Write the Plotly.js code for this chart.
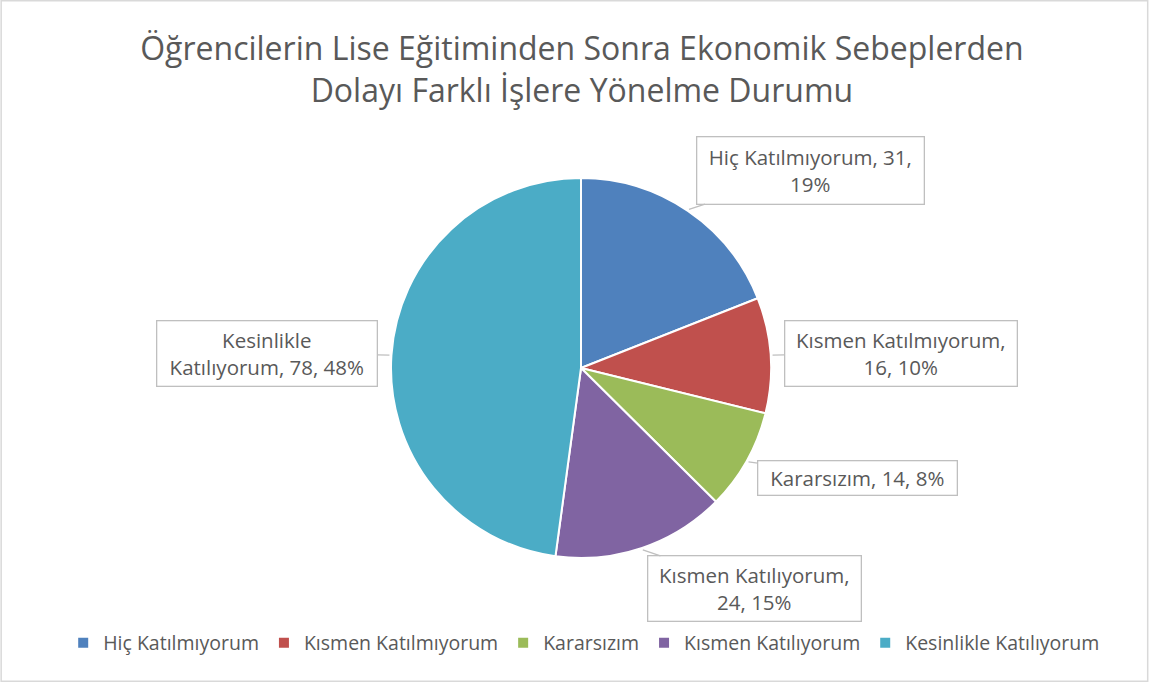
<!DOCTYPE html>
<html>
<head>
<meta charset="utf-8">
<script src="https://cdn.plot.ly/plotly-3.0.1.min.js"></script>
<style>html,body{margin:0;padding:0;background:#fff;}#chart{width:1150px;height:684px;}</style>
</head>
<body>
<div id="chart"></div>
<script>
// ---- data ----
const categories = ["Hiç Katılmıyorum", "Kısmen Katılmıyorum", "Kararsızım", "Kısmen Katılıyorum", "Kesinlikle Katılıyorum"];
const values = [31, 16, 14, 24, 78];
const percentLabels = ["19%", "10%", "8%", "15%", "48%"];
const colors = ["#4F81BD", "#C0504D", "#9BBB59", "#8064A2", "#4BACC6"];

// ---- layout helpers (label box placement) ----
const W = 1150, H = 684;
const cx = 581, cy = 368, R = 190;
const labelOffsets = [[121, -39], [128, -2], [109, 16], [112, 39], [-122, -2]];
const labelBreaks = [
  (c, v, p) => c + ", " + v + ",<br>" + p,
  (c, v, p) => c + ",<br>" + v + ", " + p,
  (c, v, p) => c + ", " + v + ", " + p,
  (c, v, p) => c + ",<br>" + v + ", " + p,
  (c, v, p) => "Kesinlikle<br>Katılıyorum, " + v + ", " + p
];
const boxSizes = [[226, 66], [231, 64], [198, 33], [212, 64], [219, 64]];

const total = values.reduce((a, b) => a + b, 0);
let cum = 0;
const annotations = values.map((v, i) => {
  const mid = (cum + v / 2) / total * 2 * Math.PI;
  cum += v;
  const px = cx + (R + 2) * Math.sin(mid);
  const py = cy - (R + 2) * Math.cos(mid);
  return {
    xref: "paper", yref: "paper",
    x: px / W, y: 1 - py / H,
    ax: labelOffsets[i][0], ay: labelOffsets[i][1],
    text: labelBreaks[i](categories[i], v, percentLabels[i]),
    showarrow: true, arrowhead: 0, arrowwidth: 1.3, arrowcolor: "#BFBFBF", standoff: 0,
    bordercolor: "#BFBFBF", borderwidth: 1.3, borderpad: 0, bgcolor: "#FFFFFF",
    width: boxSizes[i][0], height: boxSizes[i][1],
    font: {family: "Open Sans, sans-serif", size: 20.5, color: "#595959"},
    align: "center", valign: "middle"
  };
});

const trace = {
  type: "pie",
  labels: categories,
  values: values,
  sort: false,
  direction: "clockwise",
  rotation: 0,
  textinfo: "none",
  hoverinfo: "label+value+percent",
  marker: {colors: colors, line: {color: "#FFFFFF", width: 2}},
  domain: {x: [(cx - R) / W, (cx + R) / W], y: [1 - (cy + R) / H, 1 - (cy - R) / H]}
};

const layout = {
  width: W, height: H,
  margin: {l: 0, r: 0, t: 0, b: 0},
  paper_bgcolor: "#FFFFFF",
  font: {family: "Open Sans, sans-serif", color: "#595959"},
  title: {
    text: "Öğrencilerin Lise Eğitiminden Sonra Ekonomik Sebeplerden<br>Dolayı Farklı İşlere Yönelme Durumu",
    font: {family: "Open Sans, sans-serif", size: 32, color: "#595959"},
    x: 0.506, xanchor: "center", y: 1 - 60 / H, yanchor: "middle"
  },
  showlegend: true,
  legend: {
    orientation: "h", x: 0.508, xanchor: "center", y: 1 - 643 / H, yanchor: "middle",
    font: {family: "Open Sans, sans-serif", size: 19.5, color: "#595959"},
    traceorder: "normal", itemwidth: 30
  },
  annotations: annotations,
  shapes: [{
    type: "rect", xref: "paper", yref: "paper", x0: 0.001, x1: 0.998, y0: 0.004, y1: 0.999,
    line: {color: "#D9D9D9", width: 1.5}, fillcolor: "rgba(0,0,0,0)", layer: "below"
  }]
};

Plotly.newPlot("chart", [trace], layout, {displayModeBar: false, staticPlot: true});
</script>
</body>
</html>
